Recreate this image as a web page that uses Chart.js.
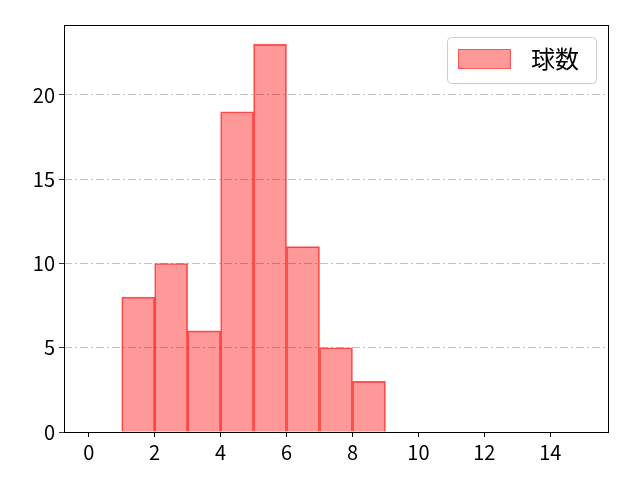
<!DOCTYPE html>
<html>
<head>
<meta charset="utf-8">
<script src="https://cdn.jsdelivr.net/npm/chart.js@4"></script>
<style>
  html, body { margin: 0; padding: 0; background: #fff; }
  #wrap { width: 640px; height: 480px; }
</style>
</head>
<body>
<div id="wrap"><canvas id="histChart" width="640" height="480"></canvas></div>
<script>
// ヒストグラムのデータ（ビンの左端と度数）
const binEdges = [1, 2, 3, 4, 5, 6, 7, 8];
const counts = [8, 10, 6, 19, 23, 11, 5, 3];
const xTicks = [0, 2, 4, 6, 8, 10, 12, 14];
const yTicks = [0, 5, 10, 15, 20];
const seriesLabel = "球数";

const FONT = "'Noto Sans CJK JP', 'DejaVu Sans', sans-serif";

// 凡例と枠線は自前で描く
const frameAndLegend = {
  id: "frameAndLegend",
  afterDraw(chart) {
    const ctx = chart.ctx;
    const a = chart.chartArea;
    ctx.save();
    ctx.strokeStyle = "#000";
    ctx.lineWidth = 1;
    ctx.strokeRect(Math.round(a.left) + 0.5, Math.round(a.top) + 0.5,
      Math.round(a.right - a.left), Math.round(a.bottom - a.top));

    // legend box
    const bx = 447.5, by = 37.5, bw = 149, bh = 46, r = 4;
    ctx.beginPath();
    ctx.moveTo(bx + r, by);
    ctx.arcTo(bx + bw, by, bx + bw, by + bh, r);
    ctx.arcTo(bx + bw, by + bh, bx, by + bh, r);
    ctx.arcTo(bx, by + bh, bx, by, r);
    ctx.arcTo(bx, by, bx + bw, by, r);
    ctx.closePath();
    ctx.fillStyle = "rgba(255,255,255,0.8)";
    ctx.fill();
    ctx.strokeStyle = "#cccccc";
    ctx.stroke();

    ctx.fillStyle = "rgba(255,0,0,0.4)";
    ctx.fillRect(458, 49, 53, 20);
    ctx.strokeStyle = "rgba(255,0,0,0.45)";
    ctx.strokeRect(458.5, 49.5, 52, 19);

    ctx.fillStyle = "#000";
    ctx.font = "24px " + FONT;
    ctx.textBaseline = "middle";
    ctx.textAlign = "left";
    ctx.fillText(seriesLabel, 531, 59);
    ctx.restore();
  }
};

const ctx = document.getElementById("histChart").getContext("2d");
new Chart(ctx, {
  type: "bar",
  data: {
    datasets: [{
      label: seriesLabel,
      data: binEdges.map((e, i) => ({ x: e + 0.5, y: counts[i] })),
      backgroundColor: "rgba(255,0,0,0.4)",
      borderColor: "rgba(255,0,0,0.65)",
      borderWidth: 1,
      categoryPercentage: 1.0,
      barPercentage: 1.0
    }]
  },
  options: {
    responsive: false,
    animation: false,
    layout: { padding: { left: 0, right: 32, top: 25, bottom: 0 } },
    plugins: {
      legend: { display: false },
      tooltip: { enabled: false }
    },
    scales: {
      x: {
        type: "linear",
        offset: false,
        min: -0.75,
        max: 15.75,
        afterBuildTicks: (axis) => { axis.ticks = xTicks.map(v => ({ value: v })); },
        afterFit: (axis) => { axis.height = 48; },
        border: { display: false },
        grid: {
          offset: false,
          drawOnChartArea: false,
          drawTicks: true,
          tickLength: 5,
          tickColor: "#000"
        },
        ticks: {
          color: "#000",
          padding: 3,
          maxRotation: 0,
          autoSkip: false,
          font: { family: FONT, size: 20 }
        }
      },
      y: {
        min: 0,
        max: 24.15,
        afterBuildTicks: (axis) => { axis.ticks = yTicks.map(v => ({ value: v })); },
        afterFit: (axis) => { axis.width = 64; },
        border: { display: false, dash: [8, 3, 2, 3] },
        grid: {
          color: "#b0b0b0",
          lineWidth: 0.8,
          tickBorderDash: [],
          drawTicks: true,
          tickLength: 5,
          tickColor: "#000"
        },
        ticks: {
          color: "#000",
          padding: 4,
          autoSkip: false,
          font: { family: FONT, size: 20 }
        }
      }
    }
  },
  plugins: [frameAndLegend]
});
</script>
</body>
</html>
